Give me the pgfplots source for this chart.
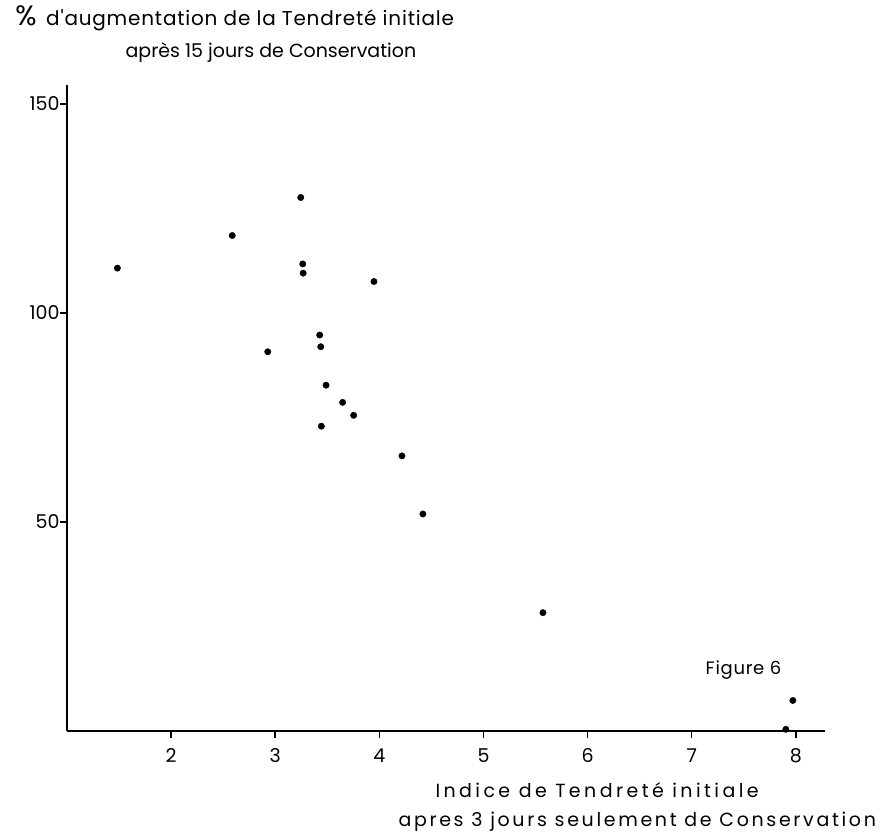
\documentclass[border=0pt]{standalone}
\usepackage{pgfplots}
\pgfplotsset{compat=1.18}
\usepackage{fontspec}
\setmainfont{Poppins}
\newfontfamily\titlefont[LetterSpace=4]{Poppins}
\newfontfamily\labfont[LetterSpace=14]{Poppins}
\newfontfamily\widefont[LetterSpace=18]{Poppins}
\begin{document}
\begin{tikzpicture}
\path[use as bounding box] (-67pt,-104pt) rectangle (819pt,731pt);
\begin{axis}[
    at={(0pt,0pt)}, anchor=origin,
    scale only axis,
    width=758pt, height=646pt,
    xmin=1, xmax=8.28,
    ymin=0, ymax=154.5,
    axis x line=bottom,
    axis y line=left,
    axis line style={-, line width=1.5pt},
    xtick={2,3,4,5,6,7,8},
    ytick={50,100,150},
    tick align=outside,
    major tick length=7pt,
    tick style={black, line width=1.5pt},
    /pgf/number format/assume math mode=true,
    ticklabel style={font=\fontsize{19}{22}\selectfont},
    xticklabel style={yshift=-7pt},
    yticklabel style={xshift=3pt},
    clip=false,
]
\addplot[only marks, mark=*, mark size=3.2pt, black] coordinates {
    (1.484,110.7)
    (2.587,118.5)
    (3.245,127.6)
    (3.264,111.7)
    (3.268,109.5)
    (3.948,107.5)
    (3.427,94.7)
    (3.437,91.9)
    (2.928,90.7)
    (3.488,82.7)
    (3.647,78.6)
    (3.753,75.5)
    (3.443,72.9)
    (4.217,65.8)
    (4.418,51.9)
    (5.571,28.3)
    (7.971,7.3)
    (7.904,0.4)
};
\node[anchor=west, font=\titlefont\fontsize{20}{24}\selectfont] at (axis description cs:-0.0726,1.104) {{\fontsize{28}{28}\selectfont\%}\,\ d'augmentation de la Tendreté initiale};
\node[anchor=west, font=\fontsize{19}{24}\selectfont] at (axis description cs:0.0726,1.051) {après 15 jours de Conservation};
\node[anchor=west, font=\widefont\fontsize{19}{23}\selectfont] at (axis description cs:0.4815,-0.0913) {Indice de Tendreté initiale};
\node[anchor=west, font=\labfont\fontsize{19}{23}\selectfont] at (axis description cs:0.4327,-0.141) {apres 3 jours seulement de Conservation};
\node[anchor=west, font=\titlefont\fontsize{18}{22}\selectfont] at (axis description cs:0.838,0.0944) {Figure 6};
\end{axis}
\end{tikzpicture}
\end{document}
